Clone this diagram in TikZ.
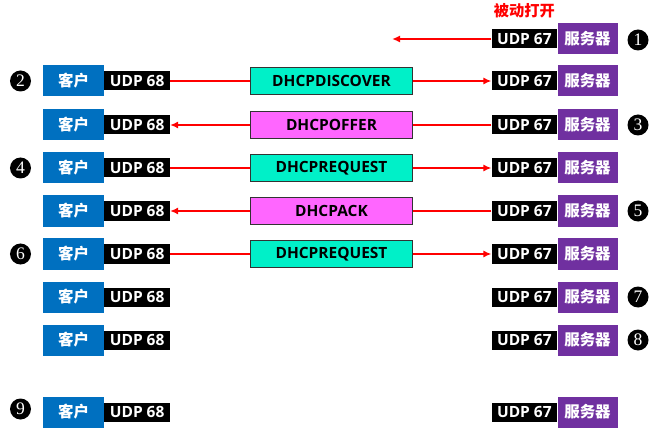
\documentclass[tikz,border=0pt]{standalone}
\usepackage{fontspec}
\setmainfont{Open Sans}
\newfontfamily\cjk{Noto Sans CJK SC}
\newfontfamily\numfont{Liberation Serif}
\usepackage{xcolor}
\usepackage{tikz}
\usetikzlibrary{positioning,arrows.meta}
\definecolor{cliblue}{RGB}{0,112,192}
\definecolor{srvpurple}{RGB}{112,48,160}
\definecolor{msgteal}{RGB}{0,240,200}
\definecolor{msgpink}{RGB}{255,102,255}
\definecolor{arrred}{RGB}{255,0,0}

\begin{document}
\begin{tikzpicture}[
      x=0.03cm, y=-0.03cm,
      node distance=0mm,
      client/.style={rectangle, fill=cliblue, text=white, minimum width=1.83cm, minimum height=0.93cm,
        inner sep=0pt, font=\fontsize{13.2}{15}\selectfont\cjk\bfseries},
      server/.style={client, fill=srvpurple, minimum width=1.8cm},
      port/.style={rectangle, fill=black, text=white, minimum width=1.96cm, minimum height=0.57cm,
        inner sep=0pt, font=\fontsize{13.2}{15}\selectfont\bfseries},
      msg/.style={rectangle, draw=black!80, line width=0.8pt, minimum width=4.86cm, minimum height=0.81cm,
        inner sep=0pt, font=\fontsize{13.2}{15}\selectfont\bfseries},
      num/.style={circle, fill=black, text=white, minimum size=0.63cm, inner sep=0pt,
        font=\fontsize{15}{15}\selectfont\numfont},
      arrow/.style={-{Latex[length=2.4mm, width=2.1mm]}, line width=2.2pt, color=arrred},
      link/.style={line width=2.2pt, color=arrred}
    ]
    \useasboundingbox (0,0) rectangle (649,428);

    % servers
    \node[server] (s1) at (587.5,39) {服务器};
    \node[server] (s2) at (587.5,81) {服务器};
    \node[server] (s3) at (587.5,125) {服务器};
    \node[server] (s4) at (587.5,168) {服务器};
    \node[server] (s5) at (587.5,211) {服务器};
    \node[server] (s6) at (587.5,254) {服务器};
    \node[server] (s7) at (587.5,297) {服务器};
    \node[server] (s8) at (587.5,340) {服务器};
    \node[server] (s9) at (587.5,412) {服务器};
    \node[port, left=of s1] (p1) {UDP 67};
    \node[port, left=of s2] (p2) {UDP 67};
    \node[port, left=of s3] (p3) {UDP 67};
    \node[port, left=of s4] (p4) {UDP 67};
    \node[port, left=of s5] (p5) {UDP 67};
    \node[port, left=of s6] (p6) {UDP 67};
    \node[port, left=of s7] (p7) {UDP 67};
    \node[port, left=of s8] (p8) {UDP 67};
    \node[port, left=of s9] (p9) {UDP 67};

    % clients
    \node[client] (c2) at (73.5,81) {客户};
    \node[client] (c3) at (73.5,125) {客户};
    \node[client] (c4) at (73.5,168) {客户};
    \node[client] (c5) at (73.5,211) {客户};
    \node[client] (c6) at (73.5,254) {客户};
    \node[client] (c7) at (73.5,297) {客户};
    \node[client] (c8) at (73.5,340) {客户};
    \node[client] (c9) at (73.5,412) {客户};
    \node[port, right=of c2] (q2) {UDP 68};
    \node[port, right=of c3] (q3) {UDP 68};
    \node[port, right=of c4] (q4) {UDP 68};
    \node[port, right=of c5] (q5) {UDP 68};
    \node[port, right=of c6] (q6) {UDP 68};
    \node[port, right=of c7] (q7) {UDP 68};
    \node[port, right=of c8] (q8) {UDP 68};
    \node[port, right=of c9] (q9) {UDP 68};

    % messages
    \node[msg, fill=msgteal] (discover) at (331.5,81) {DHCPDISCOVER};
    \node[msg, fill=msgpink] (offer) at (331.5,125) {DHCPOFFER};
    \node[msg, fill=msgteal] (request) at (331.5,168) {DHCPREQUEST};
    \node[msg, fill=msgpink] (ack) at (331.5,211) {DHCPACK};
    \node[msg, fill=msgteal] (rerequest) at (331.5,254) {DHCPREQUEST};

    \node[above=0.2cm of p1, text=arrred, font=\fontsize{13}{15}\selectfont\cjk\bfseries] (passive) {被动打开};
    \coordinate (listen) at (392,39);

    \draw[arrow] (p1) -- (listen);
    \draw[link] (q2) -- (discover);
    \draw[arrow] (discover) -- (p2);
    \draw[link] (p3) -- (offer);
    \draw[arrow] (offer) -- (q3);
    \draw[link] (q4) -- (request);
    \draw[arrow] (request) -- (p4);
    \draw[link] (p5) -- (ack);
    \draw[arrow] (ack) -- (q5);
    \draw[link] (q6) -- (rerequest);
    \draw[arrow] (rerequest) -- (p6);

    % step numbers
    \node[num] (n1) at (638,40) {1};
    \node[num] (n2) at (20.5,81) {2};
    \node[num] (n3) at (638,125) {3};
    \node[num] (n4) at (20.5,168) {4};
    \node[num] (n5) at (638,211) {5};
    \node[num] (n6) at (20.5,254) {6};
    \node[num] (n7) at (638,297) {7};
    \node[num] (n8) at (638,340) {8};
    \node[num] (n9) at (20.5,409) {9};
  \end{tikzpicture}
\end{document}
